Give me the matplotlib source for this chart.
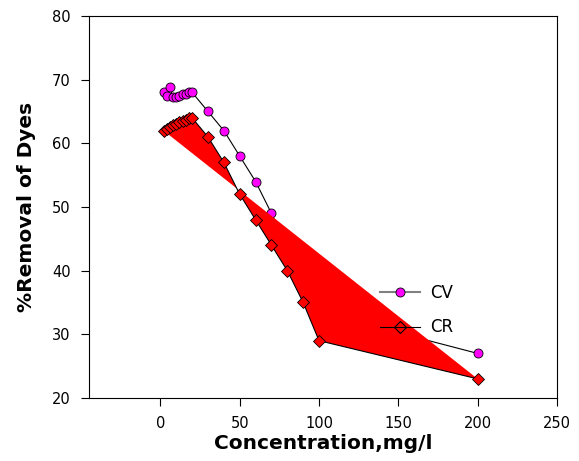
import matplotlib.pyplot as plt
from matplotlib.lines import Line2D

plt.rcParams['font.family'] = ['DejaVu Sans']

# data
conc_cv = [2, 4, 6, 8, 10, 12, 14, 16, 18, 20, 30, 40, 50, 60, 70, 100, 200]
removal_cv = [68.0, 67.4, 68.8, 67.2, 67.3, 67.5, 67.7, 67.8, 68.0, 68.0,
              65.0, 62.0, 58.0, 54.0, 49.0, 33.5, 27.0]

conc_cr = [2, 4, 6, 8, 10, 12, 14, 16, 18, 20, 30, 40, 50, 60, 70, 80, 90, 100, 200]
removal_cr = [62.0, 62.3, 62.6, 62.9, 63.1, 63.3, 63.5, 63.7, 63.9, 64.0,
              61.0, 57.0, 52.0, 48.0, 44.0, 40.0, 35.0, 29.0, 23.0]

xticks = [0, 50, 100, 150, 200, 250]
yticks = [20, 30, 40, 50, 60, 70, 80]

fig = plt.figure(figsize=(5.79, 4.61), dpi=100)
ax = fig.add_axes([0.1537, 0.1367, 0.8083, 0.8286])

# CV series (sits underneath the red fill)
ax.plot(conc_cv, removal_cv, color='black', lw=0.8, marker='o', ms=6.5,
        mfc='#ff00ff', mec='black', mew=0.6, zorder=2)

# CR series with the closed red polygon drawn on top of CV
ax.fill(conc_cr, removal_cr, color='#ff0000', lw=0, zorder=3)
ax.plot(conc_cr, removal_cr, color='black', lw=0.8, marker='D', ms=6.5,
        mfc='#ff0000', mec='black', mew=0.6, zorder=4)

ax.set_xlim(-45, 250)
ax.set_ylim(20, 80)
ax.set_xticks(xticks)
ax.set_yticks(yticks)
ax.tick_params(direction='out', length=6, width=0.8, labelsize=10.5, pad=7)
for s in ax.spines.values():
    s.set_linewidth(0.8)

ax.set_xlabel('Concentration,mg/l', fontsize=14.5, fontweight='bold', labelpad=2)
ax.set_ylabel('%Removal of Dyes', fontsize=14.5, fontweight='bold', labelpad=12)

handles = [
    Line2D([], [], color='#808080', lw=1.5, marker='o', ms=6.5,
           mfc='#ff00ff', mec='black', mew=0.6),
    Line2D([], [], color='black', lw=0.8, marker='D', ms=6.5,
           mfc='none', mec='black', mew=0.8),
]
ax.legend(handles, ['CV', 'CR'], loc='center left', bbox_to_anchor=(0.59, 0.23),
          frameon=False, fontsize=12, handlelength=2.4, labelspacing=1.0,
          handletextpad=0.6)

fig.savefig('out.png', dpi=100, facecolor='white')
